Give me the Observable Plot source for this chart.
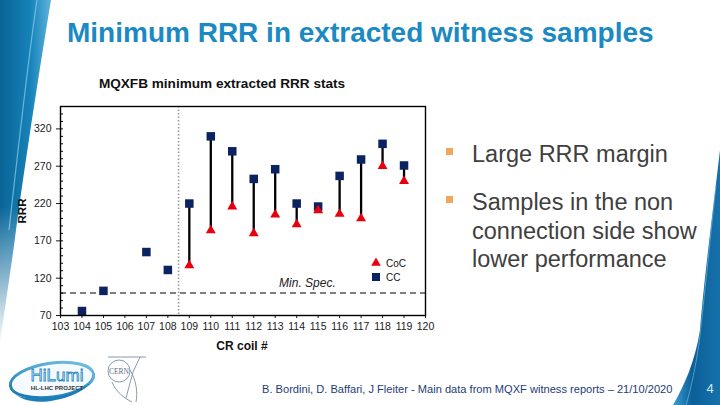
<!DOCTYPE html>
<html><head><meta charset="utf-8">
<script src="https://cdn.jsdelivr.net/npm/d3@7"></script>
<script src="https://cdn.jsdelivr.net/npm/@observablehq/plot@0.6"></script>
<style>
body{margin:0;background:#fff}
#slide{position:relative;width:720px;height:405px;overflow:hidden;background:#fff;font-family:"Liberation Sans",Arial,Helvetica,sans-serif}
.abs{position:absolute;left:0;top:0}
#chart{position:absolute;left:0;top:95px}
</style>
</head><body>
<div id="slide">
<svg class="abs" width="720" height="405" id="deco">
  <defs>
    <linearGradient id="gL" x1="0" y1="0" x2="1" y2="0">
      <stop offset="0" stop-color="#0a6496"/>
      <stop offset="0.6" stop-color="#1683b9"/>
      <stop offset="1" stop-color="#5fb4dc"/>
    </linearGradient>
    <linearGradient id="fadeL" x1="0" y1="0" x2="0" y2="1">
      <stop offset="0" stop-color="#fff" stop-opacity="1"/>
      <stop offset="0.6" stop-color="#fff" stop-opacity="1"/>
      <stop offset="1" stop-color="#fff" stop-opacity="0"/>
    </linearGradient>
    <mask id="mL"><rect x="0" y="0" width="60" height="345" fill="url(#fadeL)"/></mask>
    <linearGradient id="gR" x1="0" y1="0" x2="1" y2="0">
      <stop offset="0" stop-color="#3a9fd6"/>
      <stop offset="0.4" stop-color="#0c5f98"/>
      <stop offset="1" stop-color="#1672ab"/>
    </linearGradient>
    <linearGradient id="gHi" x1="0" y1="1" x2="1" y2="0">
      <stop offset="0" stop-color="#0d6fa8"/>
      <stop offset="1" stop-color="#7cc7e8"/>
    </linearGradient>
  </defs>
  <g mask="url(#mL)">
    <path d="M0,0 H51 C41,60 27,150 16,230 C11,270 5,305 0,345 Z" fill="url(#gL)"/>
    <path d="M37,0 C28,60 18,150 9,230" fill="none" stroke="#8fd0ee" stroke-width="1.2" opacity="0.7"/>
  </g>
  <path d="M720,150 C713,210 704,280 700,330 C695,362 684,386 673,405 H720 Z" fill="url(#gR)"/>
  <path d="M716,185 C709,250 704,300 700,335 C697,360 692,385 686,405" fill="none" stroke="#7cc3ea" stroke-width="1" opacity="0.6"/>
  <!-- HiLumi logo -->
  <g transform="translate(52,380) rotate(-8)">
    <ellipse cx="0" cy="0" rx="42" ry="17" fill="#f4fafd" stroke="url(#gHi)" stroke-width="3"/>
    <path d="M-40,6 C-36,18 10,22 38,8 C20,24 -30,26 -40,6 Z" fill="#1a7fb8"/>
  </g>
  <text x="57" y="381" text-anchor="middle" font-size="17" fill="#d7eef9" stroke="#2b86bf" stroke-width="0.8" font-family="Liberation Sans, Arial, sans-serif">HiLumi</text>
  <text x="57" y="390" text-anchor="middle" font-size="6" font-weight="bold" fill="#333" font-family="Liberation Sans, Arial, sans-serif">HL-LHC PROJECT</text>
  <!-- CERN logo -->
  <g fill="none" stroke="#7c8ea3" stroke-width="0.9">
    <circle cx="119" cy="371" r="11"/>
    <path d="M130,370 C136,380 138,392 136,402"/>
    <path d="M140,357 L133,372 L126,398"/>
    <path d="M112,382 C116,392 124,398 132,402"/>
    <path d="M108,357 L146,357"/>
  </g>
  <text x="119" y="374" text-anchor="middle" font-size="7.5" fill="#5d6f86" font-family="Liberation Serif, serif">CERN</text>
</svg>
<div id="chart"></div>
<svg class="abs" width="720" height="405" id="over" style="pointer-events:none">
  <text x="67" y="42" font-size="28" font-weight="bold" fill="#1b8ac2">Minimum RRR in extracted witness samples</text>
  <text x="222" y="88" text-anchor="middle" font-size="13.6" font-weight="bold" fill="#111">MQXFB minimum extracted RRR stats</text>
  <text transform="translate(26,211) rotate(-90)" text-anchor="middle" font-size="11.5" font-weight="bold" fill="#111">RRR</text>
  <text x="242" y="350" text-anchor="middle" font-size="12" font-weight="bold" fill="#111">CR coil #</text>
  <g id="legend"></g>
  <g id="bullets" font-size="23.5" fill="#404040"></g>
  <text x="262" y="393" font-size="11.1" fill="#1e3c78">B. Bordini, D. Baffari, J Fleiter - Main data from MQXF witness reports – 21/10/2020</text>
  <text x="710" y="393" text-anchor="middle" font-size="13" fill="#d4ebf7">4</text>
</svg>
</div>
<script>
// ---- data ----
const ccCoils = [104, 105, 107, 108, 109, 110, 111, 112, 113, 114, 115, 116, 117, 118, 119];
const ccValues = [76, 103, 155, 131, 220, 310, 290, 253, 266, 220, 216, 257, 279, 300, 271];
const cocCoils = [109, 110, 111, 112, 113, 114, 115, 116, 117, 118, 119];
const cocValues = [137, 184, 216, 180, 205, 192, 211, 206, 200, 270, 250];
const seriesNames = ["CoC", "CC"];
const xTicks = d3.range(103, 121);
const yTicks = [70, 120, 170, 220, 270, 320];
const yMinorTicks = d3.range(70, 351, 10);
const minSpec = 100;
const minSpecLabel = "Min. Spec.";
const minSpecLabelX = 114.5;
const dividerX = 108.5;
const bulletLines = [["Large RRR margin"], ["Samples in the non", "connection side show", "lower performance"]];

const ccData = ccCoils.map((c, i) => ({coil: c, rrr: ccValues[i]}));
const cocData = cocCoils.map((c, i) => ({coil: c, rrr: cocValues[i]}));
const pairs = cocData.map(d => ({coil: d.coil, coc: d.rrr, cc: ccData.find(e => e.coil === d.coil).rrr}));

const navy = "#0b2360", red = "#e8000e";

const chart = Plot.plot({
  width: 440, height: 260,
  marginLeft: 60, marginRight: 15, marginTop: 11, marginBottom: 40,
  x: {domain: [103, 120]},
  y: {domain: [70, 350]},
  style: {fontFamily: "Liberation Sans, Arial, sans-serif", fontSize: "10.5px", color: "#1a1a1a", background: "transparent"},
  marks: [
    Plot.ruleX([dividerX], {stroke: "#9a9a9a", strokeDasharray: "1.5,2", strokeWidth: 1.6}),
    Plot.ruleY([minSpec], {stroke: "#7f7f7f", strokeDasharray: "6,4", strokeWidth: 2}),
    Plot.text([{x: minSpecLabelX, y: minSpec, t: minSpecLabel}], {x: "x", y: "y", text: "t", dy: -10, fontStyle: "italic", fontSize: 12, fill: "#222"}),
    Plot.ruleX(pairs, {x: "coil", y1: "cc", y2: "coc", stroke: "#000", strokeWidth: 2.3}),
    Plot.dot(ccData, {x: "coil", y: "rrr", symbol: "square", fill: navy, r: 4.8}),
    Plot.dot(cocData, {x: "coil", y: "rrr", symbol: "triangle", fill: red, r: 3.7}),
    Plot.ruleY(yMinorTicks, {x1: 103, x2: 103.14, stroke: "#000", strokeWidth: 1}),
    Plot.axisX({ticks: xTicks, tickSize: 3, tickPadding: 4, tickFormat: d => String(d), label: null}),
    Plot.axisY({ticks: yTicks, tickSize: 4, tickPadding: 5, label: null}),
    Plot.frame({stroke: "#000", strokeWidth: 1.4})
  ]
});
document.getElementById("chart").appendChild(chart);

// legend (inside plot area)
const ns = "http://www.w3.org/2000/svg";
const lg = document.getElementById("legend");
const legendSym = [d3.symbol(d3.symbolTriangle, 40)(), d3.symbol(d3.symbolSquare, 64)()];
const legendCol = [red, navy];
seriesNames.forEach((name, i) => {
  const y = 263 + i * 14;
  const p = document.createElementNS(ns, "path");
  p.setAttribute("d", legendSym[i]);
  p.setAttribute("transform", `translate(376,${y})`);
  p.setAttribute("fill", legendCol[i]);
  lg.appendChild(p);
  const t = document.createElementNS(ns, "text");
  t.setAttribute("x", 386); t.setAttribute("y", y + 4);
  t.setAttribute("font-size", "10"); t.setAttribute("fill", "#111");
  t.textContent = name;
  lg.appendChild(t);
});

// bullets
const bg = document.getElementById("bullets");
const bulletTop = [162, 210];
bulletLines.forEach((lines, i) => {
  const r = document.createElementNS(ns, "rect");
  r.setAttribute("x", 446); r.setAttribute("y", bulletTop[i] - 14);
  r.setAttribute("width", 7); r.setAttribute("height", 7);
  r.setAttribute("fill", "#f2a65e");
  bg.appendChild(r);
  lines.forEach((s, j) => {
    const t = document.createElementNS(ns, "text");
    t.setAttribute("x", 472); t.setAttribute("y", bulletTop[i] + j * 28.7);
    t.textContent = s;
    bg.appendChild(t);
  });
});
</script>
</body></html>
